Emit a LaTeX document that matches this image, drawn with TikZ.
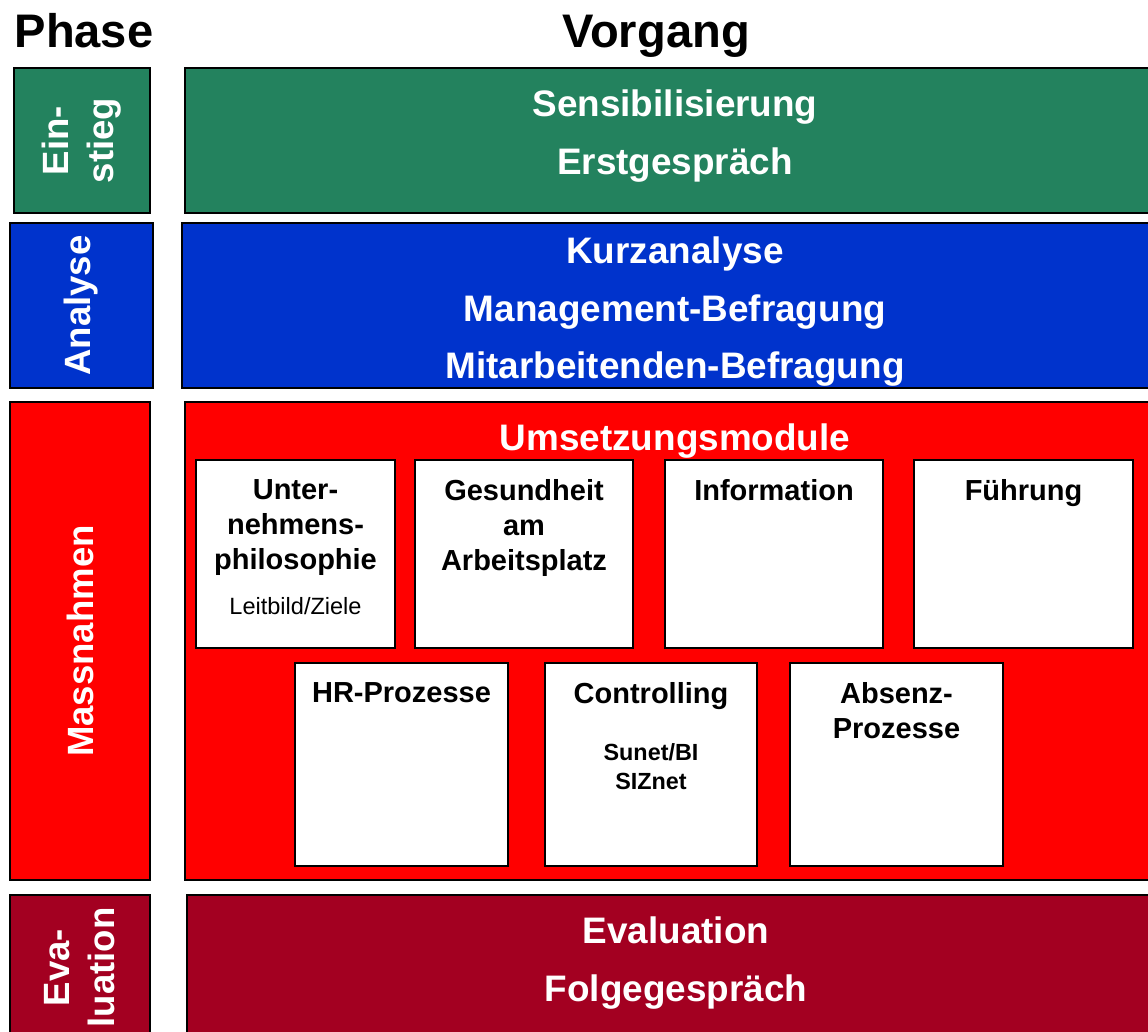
\documentclass[tikz,border=0pt]{standalone}
\usepackage{fontspec}
\setmainfont{Liberation Sans}
\usetikzlibrary{positioning}

\definecolor{gruen}{RGB}{35,130,94}
\definecolor{blau}{RGB}{0,51,204}
\definecolor{rot}{RGB}{255,0,0}
\definecolor{dunkelrot}{RGB}{163,0,33}

\tikzset{
  kopf/.style={font=\fontsize{26.8}{30}\selectfont\bfseries, inner sep=0pt},
  feld/.style={draw=black, line width=1pt, inner sep=0pt},
  phasetext/.style={rotate=90, text=white, align=center, inner sep=0pt,
    font=\fontsize{20.8}{25.5}\selectfont\bfseries},
  vtext/.style={text=white, align=center, inner sep=0pt,
    font=\fontsize{21}{32.9}\selectfont\bfseries},
  modul/.style={draw=black, line width=1pt, fill=white, inner sep=0pt},
  modtitel/.style={align=center, inner sep=0pt,
    font=\fontsize{16.5}{19.8}\selectfont\bfseries},
  modklein/.style={align=center, inner sep=0pt,
    font=\fontsize{13.4}{16.4}\selectfont}
}

\begin{document}
\begin{tikzpicture}[x=0.02cm, y=-0.02cm]
\useasboundingbox (0,0) rectangle (1148,1031);
\clip (0,0) rectangle (1148,1031);

% Kopfzeile
\node[kopf, anchor=base] (phase) at (84,47) {Phase};
\node[kopf, anchor=base] (vorgang) at (656,47) {Vorgang};

% Einstieg
\node[feld, fill=gruen, minimum width=2.72cm, minimum height=2.9cm] (einstieg) at (82,140.5) {};
\node[phasetext] (einstiegtext) at (einstieg.center) {Ein-\\stieg};
\node[feld, fill=gruen, minimum width=19.6cm, minimum height=2.9cm] (sensib) at (675,140.5) {};
\node[vtext, below=0.44cm of sensib.north] (sensibtext) {Sensibilisierung\\Erstgespräch};

% Analyse
\node[feld, fill=blau, minimum width=2.86cm, minimum height=3.3cm] (analyse) at (81.5,305.5) {};
\node[phasetext] (analysetext) at (analyse.center) {Analyse};
\node[feld, fill=blau, minimum width=19.72cm, minimum height=3.3cm] (befragung) at (675,305.5) {};
\node[vtext, below=0.28cm of befragung.north] (befragungtext)
  {Kurzanalyse\\Management-Befragung\\Mitarbeitenden-Befragung};

% Massnahmen
\node[feld, fill=rot, minimum width=2.8cm, minimum height=9.56cm] (massnahmen) at (80,641) {};
\node[phasetext] (massnahmentext) at (massnahmen.center) {Massnahmen};
\node[feld, fill=rot, minimum width=19.6cm, minimum height=9.56cm] (umsetzung) at (675,641) {};
\node[vtext, below=0.44cm of umsetzung.north] (umsetzungtext) {Umsetzungsmodule};

% Module, obere Reihe
\node[modul, minimum width=3.98cm, minimum height=3.76cm] (philo) at (295.5,554) {};
\node[modul, minimum width=4.36cm, minimum height=3.76cm] (gesund) at (524,554) {};
\node[modul, minimum width=4.36cm, minimum height=3.76cm] (info) at (774,554) {};
\node[modul, minimum width=4.38cm, minimum height=3.76cm] (fuehrung) at (1023.5,554) {};
\node[modtitel, below=0.4cm of philo.north] (philotext) {Unter-\\nehmens-\\philosophie};
\node[modklein, below=0.44cm of philotext] (leitbild) {Leitbild/Ziele};
\node[modtitel, below=0.4cm of gesund.north] (gesundtext) {Gesundheit\\am\\Arbeitsplatz};
\node[modtitel, below=0.4cm of info.north] (infotext) {Information};
\node[modtitel, below=0.4cm of fuehrung.north] (fuehrungtext) {Führung};

% Module, untere Reihe
\node[modul, minimum width=4.26cm, minimum height=4.06cm] (hr) at (401.5,764.5) {};
\node[modul, minimum width=4.24cm, minimum height=4.06cm] (contr) at (651,764.5) {};
\node[modul, minimum width=4.26cm, minimum height=4.06cm] (absenz) at (896.5,764.5) {};
\node[modtitel, below=0.4cm of hr.north] (hrtext) {HR-Prozesse};
\node[modtitel, below=0.4cm of contr.north] (contrtext) {Controlling};
\node[modklein, font=\fontsize{13.3}{16.4}\selectfont\bfseries, below=0.66cm of contrtext] (sunet) {Sunet/BI\\SIZnet};
\node[modtitel, below=0.4cm of absenz.north] (absenztext) {Absenz-\\Prozesse};

% Evaluation
\node[feld, fill=dunkelrot, minimum width=2.8cm, minimum height=2.9cm] (evaluation) at (80,967.5) {};
\node[phasetext] (evaluationtext) at (evaluation.center) {Eva-\\luation};
\node[feld, fill=dunkelrot, minimum width=19.56cm, minimum height=2.9cm] (folge) at (676,967.5) {};
\node[vtext, below=0.44cm of folge.north] (folgetext) {Evaluation\\Folgegespräch};
\end{tikzpicture}
\end{document}
